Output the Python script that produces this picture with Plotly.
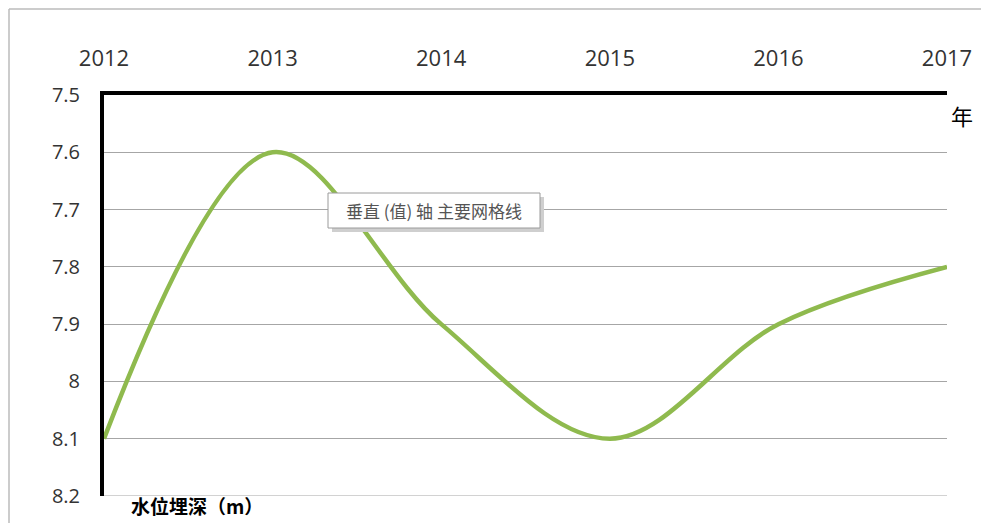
import plotly.graph_objects as go

years = [2012, 2013, 2014, 2015, 2016, 2017]
depth = [8.1, 7.6, 7.9, 8.1, 7.9, 7.8]
y_ticks = [7.5, 7.6, 7.7, 7.8, 7.9, 8.0, 8.1, 8.2]
y_labels = ["7.5", "7.6", "7.7", "7.8", "7.9", "8", "8.1", "8.2"]

W, H = 981, 515
L, R, T, B = 96, 42, 87, 27
PW, PH = W - L - R, H - T - B

def px(x):  # figure px -> paper x
    return (x - L) / PW

def py(y):  # figure px from top -> paper y
    return (H - B - y) / PH

fig = go.Figure()
fig.add_trace(go.Scatter(
    x=years, y=depth, mode="lines",
    line=dict(color="#8FBA4E", width=4.5, shape="spline", smoothing=1.0),
    hoverinfo="skip", showlegend=False,
))

fig.update_layout(
    width=W, height=H,
    margin=dict(l=L, r=R, t=T, b=B),
    paper_bgcolor="white", plot_bgcolor="white",
    font=dict(family="Open Sans, Liberation Sans, sans-serif", color="#333333"),
    xaxis=dict(
        side="top", range=[2012, 2017], tickmode="array", tickvals=years,
        ticktext=[str(y) for y in years], showgrid=False, zeroline=False,
        showline=True, linecolor="black", linewidth=4, ticks="",
        tickfont=dict(size=22, color="#333333", family="Liberation Sans Narrow, Open Sans, sans-serif"),
        ticklabelstandoff=16,
    ),
    yaxis=dict(
        range=[8.2, 7.5], tickmode="array", tickvals=y_ticks, ticktext=y_labels,
        showgrid=True, gridcolor="#A6A6A6", gridwidth=1.2, zeroline=False,
        showline=True, linecolor="black", linewidth=4, ticks="",
        tickfont=dict(size=20, color="#333333"),
        ticklabelstandoff=16,
    ),
)

# outer image frame
fig.add_shape(type="line", xref="paper", yref="paper", x0=px(1), x1=px(W), y0=py(1), y1=py(1),
              line=dict(color="#BBBBBB", width=1.5))
fig.add_shape(type="line", xref="paper", yref="paper", x0=px(1), x1=px(1), y0=py(H), y1=py(1),
              line=dict(color="#BBBBBB", width=1.5))

# bottom gridline at 8.2
fig.add_shape(type="line", xref="paper", yref="y", x0=0, x1=1, y0=8.2, y1=8.2,
              line=dict(color="#A6A6A6", width=1.2))

fig.add_annotation(text="年", xref="paper", yref="paper", x=px(941), y=py(107),
                   xanchor="left", yanchor="middle", showarrow=False,
                   font=dict(size=22, color="black", family="Noto Sans CJK SC"))
fig.add_annotation(text="<b>水位埋深（m）</b>", xref="paper", yref="paper", x=px(121), y=py(497),
                   xanchor="left", yanchor="middle", showarrow=False,
                   font=dict(size=19, color="black", family="Noto Sans CJK SC"))

# tooltip box with shadow
bx0, bx1, by0, by1 = 320, 532, 185, 220
fig.add_shape(type="rect", xref="paper", yref="paper",
              x0=px(bx0 + 4), x1=px(bx1 + 4), y0=py(by1 + 4), y1=py(by0 + 4),
              fillcolor="#CFCFCF", line=dict(width=0))
fig.add_shape(type="rect", xref="paper", yref="paper",
              x0=px(bx0), x1=px(bx1), y0=py(by1), y1=py(by0),
              fillcolor="white", line=dict(color="#9A9A9A", width=1))
fig.add_annotation(text="垂直 (值) 轴 主要网格线", xref="paper", yref="paper",
                   x=px((bx0 + bx1) / 2), y=py((by0 + by1) / 2),
                   xanchor="center", yanchor="middle", showarrow=False,
                   font=dict(size=17, color="#555555", family="Noto Sans CJK SC"))

fig.write_html("out.html")
